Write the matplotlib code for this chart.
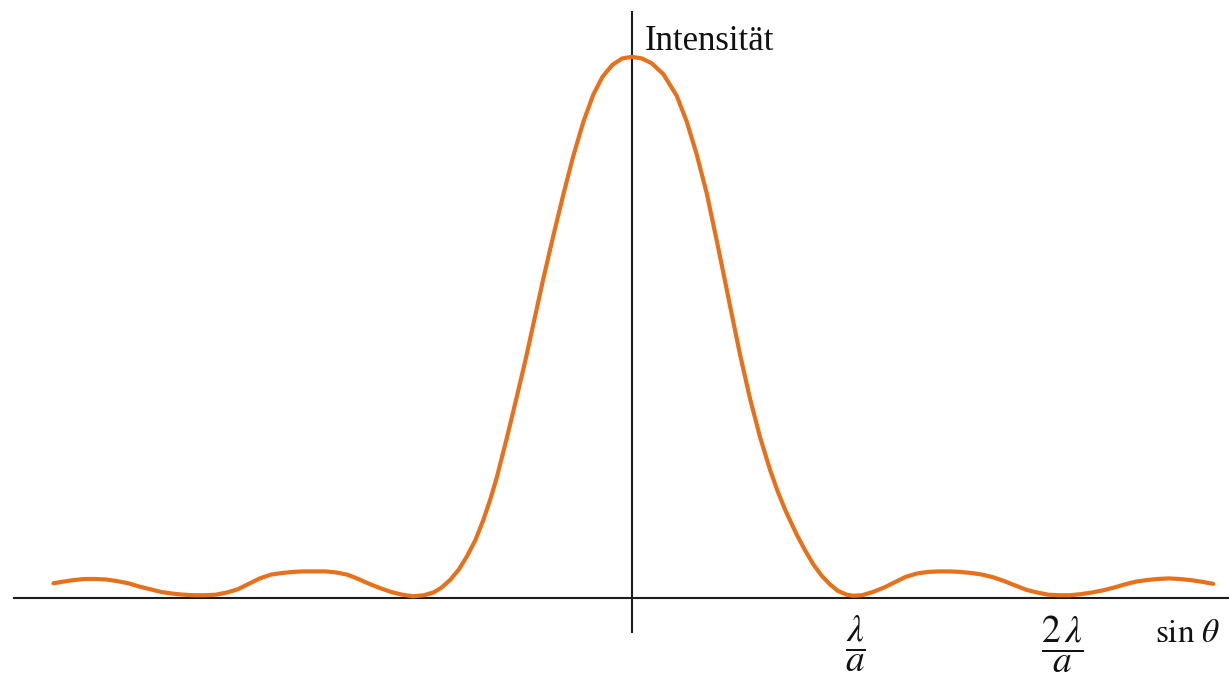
import matplotlib
matplotlib.use("Agg")
import matplotlib.pyplot as plt

plt.rcParams['mathtext.fontset'] = 'stix'
plt.rcParams['font.family'] = ['Liberation Serif', 'DejaVu Serif']

# sin(theta) in units of lambda/a, intensity relative to the central maximum
sin_theta = [-2.642, -2.60, -2.55, -2.50, -2.45, -2.40, -2.35, -2.30, -2.25,
             -2.20, -2.15, -2.10, -2.05, -2.00, -1.95, -1.90, -1.85, -1.80,
             -1.75, -1.70, -1.65, -1.60, -1.55, -1.50, -1.45, -1.40, -1.35,
             -1.30, -1.25, -1.20, -1.15, -1.10, -1.05,
             -1.00, -0.95, -0.907, -0.87, -0.831, -0.79, -0.755, -0.715,
             -0.679, -0.645, -0.618, -0.572, -0.526, -0.488, -0.451, -0.405,
             -0.359, -0.314, -0.268, -0.222, -0.177, -0.135, -0.09, -0.045,
             0.0,
             0.045, 0.09, 0.143, 0.204, 0.25, 0.295, 0.341, 0.387, 0.425,
             0.455, 0.493, 0.539, 0.584, 0.63, 0.665, 0.70, 0.752, 0.79,
             0.828, 0.866, 0.904, 0.94, 0.98, 1.01,
             1.05, 1.10, 1.15, 1.20, 1.25, 1.30, 1.35, 1.40, 1.45, 1.50, 1.55,
             1.60, 1.65, 1.70, 1.75, 1.80, 1.85, 1.90, 1.95, 2.00, 2.05, 2.10,
             2.15, 2.20, 2.25, 2.30, 2.35, 2.40, 2.45, 2.50, 2.55, 2.60, 2.654]
intensity = [0.027, 0.030, 0.033, 0.035, 0.035, 0.034, 0.031, 0.027, 0.021,
             0.016, 0.011, 0.008, 0.006, 0.005, 0.005, 0.006, 0.010, 0.016,
             0.026, 0.036, 0.043, 0.046, 0.048, 0.049, 0.049, 0.049, 0.047,
             0.043, 0.035, 0.026, 0.018, 0.011, 0.006,
             0.003, 0.005, 0.010, 0.019, 0.033, 0.053, 0.076, 0.107,
             0.144, 0.185, 0.222, 0.295, 0.372, 0.437, 0.505, 0.590,
             0.670, 0.745, 0.817, 0.880, 0.930, 0.963, 0.985, 0.997,
             1.0,
             0.997, 0.988, 0.968, 0.928, 0.880, 0.820, 0.748, 0.660, 0.585,
             0.525, 0.450, 0.368, 0.298, 0.237, 0.197, 0.162, 0.117, 0.088,
             0.062, 0.041, 0.025, 0.013, 0.006, 0.004,
             0.005, 0.011, 0.019, 0.029, 0.039, 0.045, 0.048, 0.049, 0.049,
             0.048, 0.046, 0.043, 0.038, 0.031, 0.023, 0.015, 0.010, 0.006,
             0.005, 0.005, 0.007, 0.010, 0.014, 0.019, 0.025, 0.030, 0.033,
             0.035, 0.036, 0.035, 0.033, 0.030, 0.026]

tick_pos = [1.018, 1.963]
tick_labels = [r'$\dfrac{\lambda}{a}$', r'$\dfrac{2\,\lambda}{a}$']

fig = plt.figure(figsize=(12.29, 6.78), dpi=100)
ax = fig.add_axes([0, 0, 1, 1])
ax.set_xlim(-2.886, 2.726)
ax.set_ylim(-0.148, 1.105)
ax.axis('off')

# axes drawn as plain lines through the origin
ax.plot([-2.828, 2.726], [0, 0], color='#1c1c1c', lw=1.5, solid_capstyle='butt')
ax.plot([0, 0], [-0.065, 1.085], color='#1c1c1c', lw=1.5, solid_capstyle='butt')

ax.plot(sin_theta, intensity, color='#E6711A', lw=3, solid_capstyle='round',
        solid_joinstyle='round')

ax.text(0.059, 1.013, 'Intensität', fontsize=25, color='#111111', va='baseline')
ax.text(2.388, -0.081, r'$\sin\,\theta$', fontsize=24, color='#111111', va='baseline')
for pos, lab in zip(tick_pos, tick_labels):
    ax.text(pos, -0.085, lab, fontsize=27, color='#111111', ha='center', va='center')

fig.savefig('out.png', dpi=100)
